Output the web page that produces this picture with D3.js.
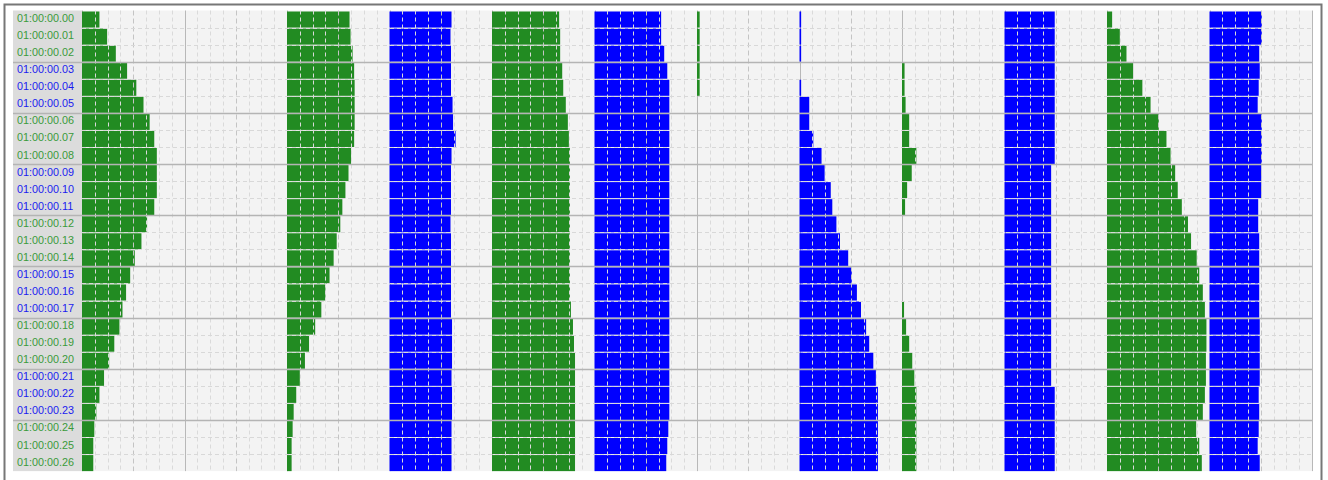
<!DOCTYPE html>
<html>
<head>
<meta charset="utf-8">
<script src="https://cdn.jsdelivr.net/npm/d3@7/dist/d3.min.js"></script>
<style>
  html, body { margin: 0; padding: 0; background: #ffffff; }
  svg { display: block; }
  text { font-family: "Liberation Sans", Arial, sans-serif; }
</style>
</head>
<body>
<svg id="chart" width="1328" height="480"></svg>
<script>
// Timecode rows (one per frame)
const timecodes = [
  "01:00:00.00", "01:00:00.01", "01:00:00.02", "01:00:00.03", "01:00:00.04",
  "01:00:00.05", "01:00:00.06", "01:00:00.07", "01:00:00.08", "01:00:00.09",
  "01:00:00.10", "01:00:00.11", "01:00:00.12", "01:00:00.13", "01:00:00.14",
  "01:00:00.15", "01:00:00.16", "01:00:00.17", "01:00:00.18", "01:00:00.19",
  "01:00:00.20", "01:00:00.21", "01:00:00.22", "01:00:00.23", "01:00:00.24",
  "01:00:00.25", "01:00:00.26"
];

// Channel levels, percent of the lane width, one value per timecode
const ch01 = [17, 24.5, 33, 44, 53, 60, 66, 70.5, 73, 73, 73, 70.5, 63.5, 58, 51.5, 47, 43, 39.5, 36.5, 31.5, 26.5, 21.5, 17, 14, 12, 11, 11];
const ch02 = [0, 0, 0, 0, 0, 0, 0, 0, 0, 0, 0, 0, 0, 0, 0, 0, 0, 0, 0, 0, 0, 0, 0, 0, 0, 0, 0];
const ch03 = [61, 62, 64, 65.5, 66, 66, 66, 65.5, 62.5, 60, 57, 54, 52, 48.5, 45.5, 41.5, 37.5, 33.5, 27.5, 21.5, 17.5, 12.5, 9, 6.5, 5.5, 4.5, 4.5];
const ch04 = [60.5, 59.5, 60, 60, 60, 61.5, 62, 64.5, 60.5, 60, 60, 60, 59.5, 60, 60, 60, 60, 60, 61, 61, 61, 60.5, 61, 61, 60.5, 60.5, 60.5];
const ch05 = [65.5, 66.5, 66.5, 68.5, 69.5, 72, 74, 75, 76, 76, 76, 76, 76, 76, 76, 76, 76, 77, 79, 80, 81, 81, 81, 81, 81, 81, 81];
const ch06 = [65, 65, 68, 71, 73, 73, 73, 73, 73, 73, 73, 73, 73, 73, 73, 73, 73, 73, 73, 73, 73, 73, 73, 73, 72, 71, 70];
const ch07 = [2.6, 2.6, 2.6, 2.6, 2.6, 0, 0, 0, 0, 0, 0, 0, 0, 0, 0, 0, 0, 0, 0, 0, 0, 0, 0, 0, 0, 0, 0];
const ch08 = [1.6, 1.6, 1.6, 0, 1.6, 9.5, 9.5, 13.5, 21.5, 24.5, 30.5, 32, 36, 39.5, 47.5, 51, 56, 60, 65, 68, 72, 74.5, 76.5, 76.5, 76.5, 76.5, 76.5];
const ch09 = [0, 0, 0, 2.5, 2.5, 3.5, 7, 7, 14, 9.5, 5, 3, 0, 0, 0, 0, 0, 2, 4, 7, 10, 12, 14, 14, 14, 14, 14];
const ch10 = [49, 49, 49, 49, 49, 49, 49, 49, 49, 45.5, 45.5, 45.5, 45.5, 45.5, 45.5, 45.5, 45.5, 45.5, 45.5, 45.5, 45.5, 45.5, 49, 49, 49, 49, 49];
const ch11 = [5, 12.5, 19, 25.5, 34.5, 42.5, 50.5, 58, 62, 66.5, 69, 73, 79, 82, 87.5, 90, 93.5, 95.5, 97, 97, 96.5, 96.5, 95.5, 93.5, 87, 90, 92.5];
const ch12 = [51, 51, 48.5, 49, 48, 47, 51, 51, 51, 50.5, 50.5, 47.5, 47.5, 48.5, 48.5, 48.5, 48.5, 48.5, 49, 49, 49, 49, 48, 48.5, 48, 47, 49];

const channels = [ch01, ch02, ch03, ch04, ch05, ch06, ch07, ch08, ch09, ch10, ch11, ch12];
const channelColors = ["#228b22", "#0000ff", "#228b22", "#0000ff", "#228b22", "#0000ff",
                       "#228b22", "#0000ff", "#228b22", "#0000ff", "#228b22", "#0000ff"];

// Layout
const labelLeft = 13, plotLeft = 82, plotRight = 1312;
const plotTop = 10.5, rowH = 17.06;
const plotBottom = plotTop + rowH * timecodes.length;

const svg = d3.select("#chart");

// Outer frame
svg.append("rect")
  .attr("x", 4.5).attr("y", 4.5)
  .attr("width", 1317).attr("height", 490)
  .attr("fill", "#ffffff")
  .attr("stroke", "#777777").attr("stroke-width", 2);

const y = d3.scaleBand()
  .domain(timecodes)
  .range([plotTop, plotBottom])
  .paddingInner(0).paddingOuter(0);

const lanes = d3.scaleBand()
  .domain(d3.range(channels.length))
  .range([plotLeft, plotRight])
  .paddingInner(0).paddingOuter(0);

const laneW = lanes.bandwidth();
const x = d3.scaleLinear().domain([0, 100]).range([0, laneW]);

// Timecode label column
svg.append("rect")
  .attr("x", labelLeft).attr("y", plotTop)
  .attr("width", plotLeft - labelLeft).attr("height", plotBottom - plotTop)
  .attr("fill", "#dcdcdc");

// Plot background
svg.append("rect")
  .attr("x", plotLeft).attr("y", plotTop)
  .attr("width", plotRight - plotLeft).attr("height", plotBottom - plotTop)
  .attr("fill", "#f3f3f3");

// Lane edges sit underneath the bars
const laneEdges = d3.range(channels.length).map(i => lanes(i)).concat([plotRight]);
svg.append("g").selectAll("line")
  .data(laneEdges)
  .join("line")
  .attr("x1", d => Math.round(d) + 0.5)
  .attr("x2", d => Math.round(d) + 0.5)
  .attr("y1", plotTop).attr("y2", plotBottom)
  .attr("stroke", "#b8b8b8")
  .attr("stroke-width", 1);

// Bars, one lane per channel; a 1px gap is left between rows
const laneG = svg.append("g").selectAll("g")
  .data(channels)
  .join("g")
  .attr("transform", (d, i) => `translate(${lanes(i)},0)`);

laneG.each(function(values, i) {
  d3.select(this).selectAll("rect")
    .data(values.map((v, r) => ({ v, t: timecodes[r] })).filter(d => d.v > 0))
    .join("rect")
    .attr("x", 0)
    .attr("y", d => y(d.t) + 1)
    .attr("width", d => x(d.v))
    .attr("height", y.bandwidth() - 1)
    .attr("fill", channelColors[i]);
});

// Vertical grid over the bars: eighths (light dashed), halves (darker dashed)
const grid = svg.append("g");
const vTicks = [];
d3.range(channels.length).forEach(i => {
  d3.range(1, 8).forEach(k => vTicks.push({ xv: lanes(i) + x(k * 12.5), k }));
});

grid.selectAll("line.v")
  .data(vTicks)
  .join("line")
  .attr("class", "v")
  .attr("x1", d => Math.round(d.xv) + 0.5)
  .attr("x2", d => Math.round(d.xv) + 0.5)
  .attr("y1", plotTop).attr("y2", plotBottom)
  .attr("stroke", d => d.k === 4 ? "#c4c4c4" : "#dadada")
  .attr("stroke-width", 1)
  .attr("stroke-dasharray", d => d.k === 4 ? "5,3" : "4,3");

// Horizontal grid: row separators, solid every third row
const hTicks = d3.range(1, timecodes.length).map(r => ({ r, yv: plotTop + r * rowH }));
grid.selectAll("line.h")
  .data(hTicks)
  .join("line")
  .attr("class", "h")
  .attr("x1", d => d.r % 3 === 0 ? labelLeft : plotLeft)
  .attr("x2", plotRight)
  .attr("y1", d => Math.round(d.yv) + 0.5)
  .attr("y2", d => Math.round(d.yv) + 0.5)
  .attr("stroke", d => d.r % 3 === 0 ? "#b4b4b4" : "#d8d8d8")
  .attr("stroke-width", d => d.r % 3 === 0 ? 1.5 : 1)
  .attr("stroke-dasharray", d => d.r % 3 === 0 ? null : "4,3");

// Row labels, coloured in alternating groups of three
svg.append("g").selectAll("text")
  .data(timecodes)
  .join("text")
  .attr("x", 17)
  .attr("y", d => y(d) + y.bandwidth() / 2 + 3)
  .attr("font-size", 10.8)
  .attr("fill", (d, i) => Math.floor(i / 3) % 2 === 0 ? "#3a9a3a" : "#1a1af0")
  .text(d => d);
</script>
</body>
</html>
